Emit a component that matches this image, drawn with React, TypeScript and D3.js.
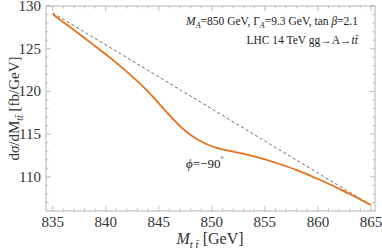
import * as d3 from "d3";
import { useEffect } from "react";

// invariant mass grid [GeV]
const masses = [
  835, 836, 837, 838, 839, 840, 841, 842, 843, 844, 845, 846, 847, 848, 849, 850,
  851, 852, 853, 854, 855, 856, 857, 858, 859, 860, 861, 862, 863, 864, 865,
];
// dσ/dM with interference, phi = -90
const sigmaPhi = [
  129.05, 128.1, 127.2, 126.25, 125.3, 124.35, 123.35, 122.3, 121.2, 120.0, 118.6,
  117.2, 115.9, 114.85, 114.1, 113.55, 113.2, 112.95, 112.7, 112.4, 112.05, 111.65,
  111.25, 110.8, 110.3, 109.75, 109.2, 108.6, 108.0, 107.35, 106.7,
];
// background only (dashed)
const bgMasses = [835, 865];
const sigmaBg = [129.2, 106.7];

const xTicks = [835, 840, 845, 850, 855, 860, 865];
const yTicks = [110, 115, 120, 125, 130];

const W = 382;
const H = 250;
const serif = "'Liberation Serif', 'Times New Roman', serif";

const App = () => {
  useEffect(() => {
    document.body.style.margin = "0";
    d3.select("#chart").selectAll("*").remove();

    const left = 46, right = 375, top = 6, bottom = 211;

    const svg = d3
      .select("#chart")
      .append("svg")
      .attr("width", W)
      .attr("height", H)
      .style("display", "block")
      .style("font-family", serif);

    const x = d3.scaleLinear().domain([834.37, 865.38]).range([left, right]);
    const y = d3.scaleLinear().domain([106, 130]).range([bottom, top]);

    // frame
    svg
      .append("rect")
      .attr("x", left)
      .attr("y", top)
      .attr("width", right - left)
      .attr("height", bottom - top)
      .attr("fill", "none")
      .attr("stroke", "#a0a0a0")
      .attr("stroke-width", 0.8);

    const minorX = d3.range(835, 866, 1);
    const minorY = d3.range(107, 131, 1);
    const tickColor = "#a0a0a0";

    // ticks on all four sides, pointing inward
    const xt = svg.append("g");
    minorX.forEach((v) => {
      const len = xTicks.includes(v) ? 5 : 2.5;
      xt.append("line").attr("x1", x(v)).attr("x2", x(v)).attr("y1", bottom).attr("y2", bottom - len)
        .attr("stroke", tickColor).attr("stroke-width", 0.7);
      xt.append("line").attr("x1", x(v)).attr("x2", x(v)).attr("y1", top).attr("y2", top + len)
        .attr("stroke", tickColor).attr("stroke-width", 0.7);
    });
    const yt = svg.append("g");
    minorY.forEach((v) => {
      const len = yTicks.includes(v) ? 5 : 2.5;
      yt.append("line").attr("x1", left).attr("x2", left + len).attr("y1", y(v)).attr("y2", y(v))
        .attr("stroke", tickColor).attr("stroke-width", 0.7);
      yt.append("line").attr("x1", right).attr("x2", right - len).attr("y1", y(v)).attr("y2", y(v))
        .attr("stroke", tickColor).attr("stroke-width", 0.7);
    });

    // tick labels
    svg
      .append("g")
      .selectAll("text")
      .data(xTicks)
      .enter()
      .append("text")
      .attr("x", (d) => x(d))
      .attr("y", bottom + 16)
      .attr("text-anchor", "middle")
      .attr("font-size", 15)
      .attr("fill", "#333")
      .text((d) => d);

    svg
      .append("g")
      .selectAll("text")
      .data(yTicks)
      .enter()
      .append("text")
      .attr("x", left - 5)
      .attr("y", (d) => y(d) + 5)
      .attr("text-anchor", "end")
      .attr("font-size", 15)
      .attr("fill", "#333")
      .text((d) => d);

    // background dashed line
    const line = d3
      .line<number>()
      .x((_, i) => x(bgMasses[i]))
      .y((d) => y(d));
    svg
      .append("path")
      .attr("d", line(sigmaBg))
      .attr("fill", "none")
      .attr("stroke", "#444")
      .attr("stroke-width", 0.8)
      .attr("stroke-dasharray", "3,2.5");

    // signal + interference
    const curve = d3
      .line<number>()
      .x((_, i) => x(masses[i]))
      .y((d) => y(d))
      .curve(d3.curveBasis);
    svg
      .append("path")
      .attr("d", curve(sigmaPhi))
      .attr("fill", "none")
      .attr("stroke", "#e8701a")
      .attr("stroke-width", 1.8);

    // axis labels
    const xl = svg
      .append("text")
      .attr("x", 210)
      .attr("y", 244)
      .attr("text-anchor", "middle")
      .attr("font-size", 16)
      .attr("fill", "#333");
    xl.append("tspan").attr("font-style", "italic").text("M");
    xl.append("tspan").attr("font-style", "italic").attr("font-size", 11).attr("dy", 4).text("t t\u0304");
    xl.append("tspan").attr("dy", -4).text(" [GeV]");

    const yl = svg
      .append("text")
      .attr("transform", `translate(19,${(top + bottom) / 2}) rotate(-90)`)
      .attr("text-anchor", "middle")
      .attr("font-size", 15)
      .attr("fill", "#333");
    yl.append("tspan").text("d");
    yl.append("tspan").attr("font-style", "italic").text("\u03c3");
    yl.append("tspan").text("/dM");
    yl.append("tspan").attr("font-style", "italic").attr("font-size", 10).attr("dy", 4).text("tt\u0304");
    yl.append("tspan").attr("dy", -4).text(" [fb/GeV]");

    // annotations
    const a1 = svg
      .append("text")
      .attr("x", 358)
      .attr("y", 25)
      .attr("text-anchor", "end")
      .attr("font-size", 11.5)
      .attr("fill", "#222");
    a1.append("tspan").attr("font-style", "italic").text("M");
    a1.append("tspan").attr("font-style", "italic").attr("font-size", 8).attr("dy", 3).text("A");
    a1.append("tspan").attr("dy", -3).text("=850 GeV, \u0393");
    a1.append("tspan").attr("font-style", "italic").attr("font-size", 8).attr("dy", 3).text("A");
    a1.append("tspan").attr("dy", -3).text("=9.3 GeV, tan ");
    a1.append("tspan").attr("font-style", "italic").text("\u03b2");
    a1.append("tspan").text("=2.1");

    const a2 = svg
      .append("text")
      .attr("x", 358)
      .attr("y", 44)
      .attr("text-anchor", "end")
      .attr("font-size", 11.5)
      .attr("fill", "#222");
    a2.append("tspan").text("LHC 14 TeV gg\u2192A\u2192");
    a2.append("tspan").attr("font-style", "italic").text("tt\u0304");

    const a3 = svg
      .append("text")
      .attr("x", 186)
      .attr("y", 168)
      .attr("font-size", 13)
      .attr("fill", "#222");
    a3.append("tspan").attr("font-style", "italic").text("\u03d5");
    a3.append("tspan").text("=\u221290");
    a3.append("tspan").attr("font-size", 8).attr("dy", -6).text("\u00b0");
  }, []);

  return <div id="chart" />;
};

export default App;
